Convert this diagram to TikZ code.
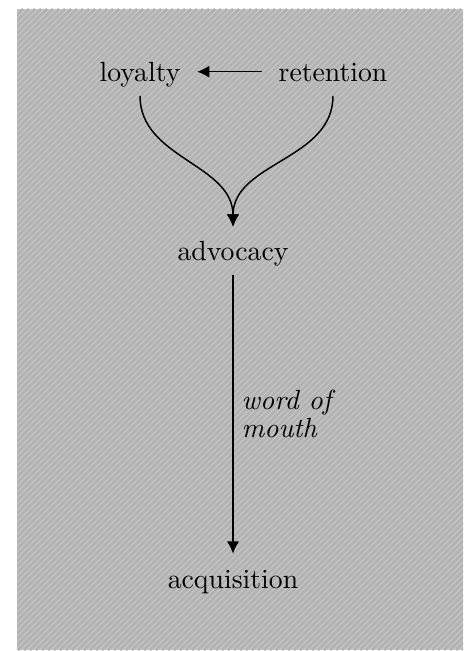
\documentclass[tikz,border=0pt]{standalone}
\usepackage{tikz}
\usetikzlibrary{arrows.meta}
\definecolor{hatchlight}{RGB}{197,197,197}
\definecolor{hatchdark}{RGB}{178,178,178}

\begin{document}
\begin{tikzpicture}[x=0.375pt, y=-0.375pt, >={Latex[length=4.6pt,width=4.6pt]},
    line width=0.55pt,
    stage/.style={anchor=base, inner xsep=6pt, inner ysep=3pt,
        text height=9.6pt, text depth=1.9pt, font=\fontsize{10.4}{12}\selectfont},
    stripe/.style={hatchdark, line width=1pt}]
    \useasboundingbox (0,0) rectangle (470,651);
    % hatched background
    \fill[hatchlight] (17,9) rectangle (463,650);
    \begin{scope}
        \clip (17,9) rectangle (463,650);
        \foreach \s in {-630,-624,...,470}
            \draw[stripe] (\s,650) -- (\s+641,9);
    \end{scope}
    \node[stage] (Loy) at (140,82) {loyalty};
    \node[stage] (Ret) at (333,82) {retention};
    \node[stage] (Adv) at (233,261) {advocacy};
    \node[stage] (Acq) at (233,588) {acquisition};
    \draw[->] (Ret) -- (Loy);
    \draw[->] (Loy.south) to[out=-90, in=90] (Adv.north);
    \draw[->] (Ret.south) to[out=-90, in=90] (Adv.north);
    \draw[->] (Adv) -- node[right, align=left, inner sep=3pt,
        font=\fontsize{10.4}{10.4}\selectfont\itshape] {word of\\mouth} (Acq);
\end{tikzpicture}
\end{document}
